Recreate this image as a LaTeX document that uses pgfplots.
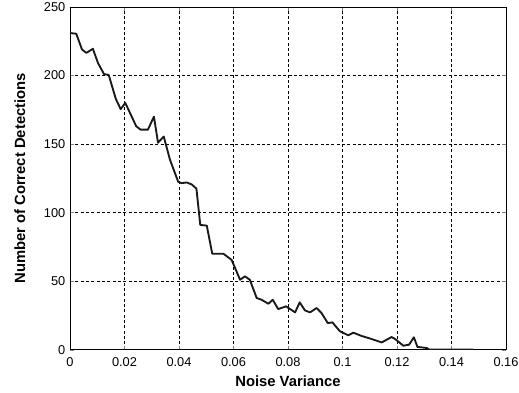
\documentclass[border=0pt]{standalone}
\usepackage{fontspec}
\setmainfont{Liberation Sans}
\usepackage{pgfplots}
\pgfplotsset{compat=1.18}
\begin{document}
\begin{tikzpicture}
\begin{axis}[
  scale only axis,
  width=327pt, height=257pt,
  xmin=0, xmax=0.16, ymin=0, ymax=250,
  xtick={0,0.02,0.04,0.06,0.08,0.1,0.12,0.14,0.16},
  xticklabels={0,0.02,0.04,0.06,0.08,0.1,0.12,0.14,0.16},
  ytick={0,50,100,150,200,250},
  /pgf/number format/assume math mode=true,
  tick label style={font=\fontsize{9.6pt}{11pt}\selectfont},
  xticklabel style={yshift=-2.5pt},
  label style={font=\fontsize{11.1pt}{13pt}\selectfont\bfseries},
  xlabel={Noise Variance},
  ylabel={Number of Correct Detections},
  xlabel style={at={(axis description cs:0.5,-0.092)}, anchor=center},
  ylabel style={at={(axis description cs:-0.115,0.5)}, anchor=center},
  grid=major,
  major grid style={black, line width=0.35pt, dash pattern=on 2.2pt off 1.8pt},
  tick align=inside,
  major tick length=3pt,
  axis line style={black, line width=0.6pt},
  clip=true,
]
\addplot[black!90, line width=1.4pt, line join=round] coordinates {
(0,231) (0.0023,230.5) (0.0044,219) (0.006,216.5) (0.0084,219.5)
(0.0103,209) (0.0125,201) (0.0142,200.5) (0.0168,183) (0.0186,175.5)
(0.0203,180) (0.0243,163) (0.0259,160.5) (0.0286,160.5) (0.0308,170)
(0.0323,151) (0.0344,155.5) (0.0367,138.5) (0.0397,122.5) (0.041,121.5)
(0.0428,122) (0.0447,120.5) (0.0464,117.5) (0.0478,91) (0.0502,90.5)
(0.0522,70) (0.0563,70) (0.0593,65.5) (0.0606,59.5) (0.0624,51)
(0.0642,53.5) (0.066,51) (0.0685,37.7) (0.0703,36.4) (0.0728,33.5)
(0.0744,36.4) (0.0764,29.6) (0.0793,31.6) (0.0826,27.2) (0.0843,34.5)
(0.0862,28.7) (0.0881,27.2) (0.0905,30.4) (0.0923,26.7) (0.0946,19.4)
(0.0963,19.9) (0.099,13.5) (0.1021,10.5) (0.104,12.4) (0.107,10)
(0.110,8.2) (0.1144,5.3) (0.118,9.2) (0.1193,7.8) (0.1223,2.9)
(0.1244,3.6) (0.1262,9) (0.1275,2) (0.131,1.2) (0.1318,0) (0.148,0)
};
\end{axis}
\pgfresetboundingbox
\path ([shift={(-52.5pt,-32.25pt)}]current axis.south west) rectangle ([shift={(9.75pt,5.25pt)}]current axis.north east);
\end{tikzpicture}
\end{document}
